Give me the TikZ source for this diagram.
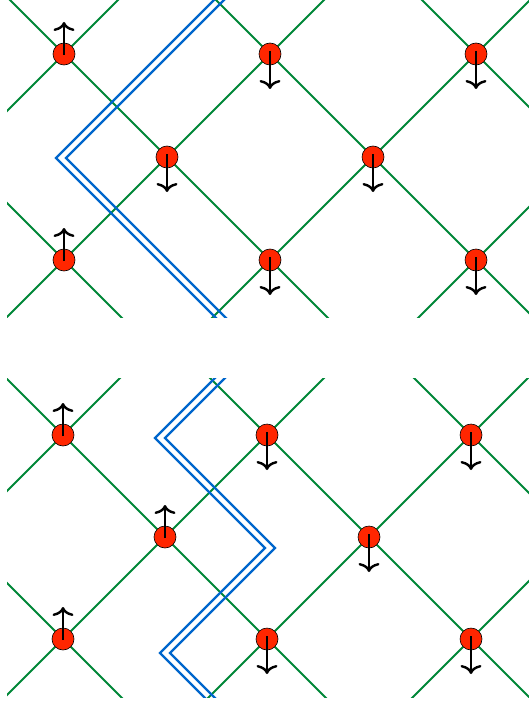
\documentclass[tikz,border=0pt]{standalone}
\usetikzlibrary{arrows.meta}
\definecolor{lat}{RGB}{0,135,55}
\definecolor{str}{RGB}{0,102,204}
\definecolor{sitered}{RGB}{255,38,0}
\begin{document}
\begin{tikzpicture}[x=1pt,y=-1pt,
  latline/.style={draw=lat,line width=2pt},
  stringline/.style={draw=str,line width=2.2pt},
  site/.style={circle,draw=black,line width=0.6pt,fill=sitered,minimum size=22pt,inner sep=0pt},
  spinup/.style={draw=black,line width=2.4pt,-{Computer Modern Rightarrow[width=21pt,length=9pt]}},
  spindown/.style={draw=black,line width=2.4pt,-{Computer Modern Rightarrow[width=21pt,length=9pt]}}]
\useasboundingbox (0,0) rectangle (529,706);
% ---------- top panel ----------
\begin{scope}
\clip (7,0) rectangle (529,317);
\foreach \m in {-3,...,4} {\pgfmathsetmacro\q{10+206*\m}
  \draw[latline] (\q-50,-50) -- (\q+370,370);}
\foreach \m in {-1,...,6} {\pgfmathsetmacro\q{118+206*\m}
  \draw[latline] (\q+50,-50) -- (\q-370,370);}
\draw[stringline,xshift=-5pt] (231,-12) -- (61,158) -- (231,328);
\draw[stringline,xshift=5pt] (231,-12) -- (61,158) -- (231,328);
\end{scope}
\node[site] (a1) at (64,54) {};
\node[site] (a2) at (270,54) {};
\node[site] (a3) at (476,54) {};
\node[site] (a4) at (167,157) {};
\node[site] (a5) at (373,157) {};
\node[site] (a6) at (64,260) {};
\node[site] (a7) at (270,260) {};
\node[site] (a8) at (476,260) {};
\draw[spinup] ([yshift=-1pt]a1.center) -- ++(0,-33);
\draw[spinup] ([yshift=-1pt]a6.center) -- ++(0,-33);
\foreach \s in {a2,a3,a4,a5,a7,a8}
  \draw[spindown] ([yshift=3pt]\s.center) -- ++(0,38);
% ---------- bottom panel ----------
\begin{scope}
\clip (7,378) rectangle (529,697);
\foreach \m in {-2,...,3} {\pgfmathsetmacro\q{-372+204*\m}
  \draw[latline] (\q+330,330) -- (\q+750,750);}
\foreach \m in {-1,...,4} {\pgfmathsetmacro\q{498+204*\m}
  \draw[latline] (\q-330,330) -- (\q-750,750);}
\draw[stringline,xshift=-5pt] (230,368) -- (160,438) -- (270,548) -- (165,653) -- (215,703);
\draw[stringline,xshift=5pt] (230,368) -- (160,438) -- (270,548) -- (165,653) -- (215,703);
\end{scope}
\node[site] (b1) at (63,435) {};
\node[site] (b2) at (267,435) {};
\node[site] (b3) at (471,435) {};
\node[site] (b4) at (165,537) {};
\node[site] (b5) at (369,537) {};
\node[site] (b6) at (63,639) {};
\node[site] (b7) at (267,639) {};
\node[site] (b8) at (471,639) {};
\foreach \s in {b1,b4,b6}
  \draw[spinup] ([yshift=-1pt]\s.center) -- ++(0,-33);
\foreach \s in {b2,b3,b5,b7,b8}
  \draw[spindown] ([yshift=3pt]\s.center) -- ++(0,38);
\end{tikzpicture}
\end{document}
